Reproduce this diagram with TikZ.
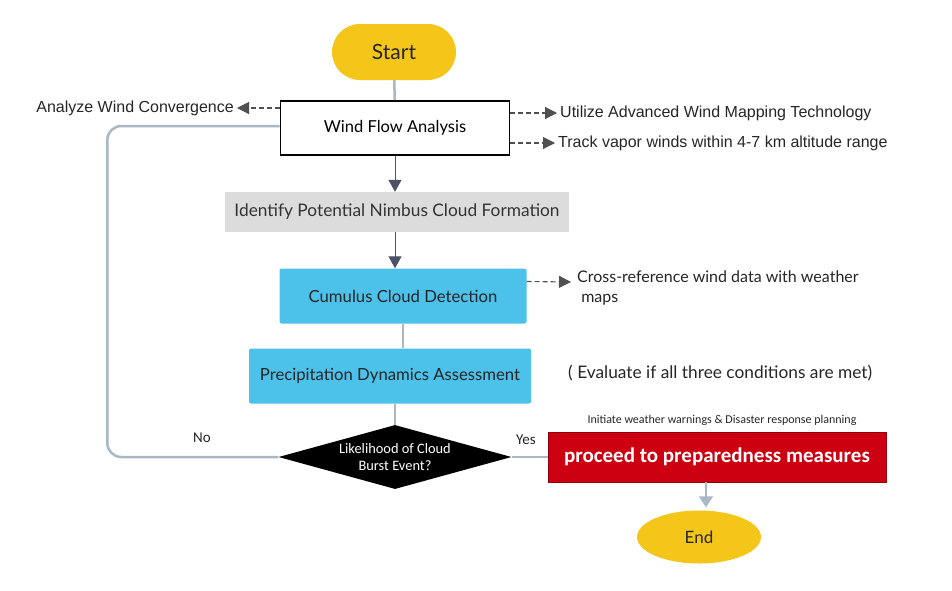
\documentclass[tikz,border=0pt]{standalone}
\usepackage{fontspec}
\setmainfont{Lato}
\newfontfamily\arialfont{Liberation Sans}
\newfontfamily\calfont{Carlito}
\usetikzlibrary{arrows.meta,shapes.geometric}

\definecolor{sunyellow}{HTML}{F5C61A}
\definecolor{flowgray}{HTML}{A9B8C6}
\definecolor{slatearrow}{HTML}{4B5167}
\definecolor{boxgray}{HTML}{DCDCDC}
\definecolor{skyblue}{HTML}{4CC1EA}
\definecolor{alertred}{HTML}{CC0011}
\definecolor{notegray}{HTML}{505050}

\begin{document}
\begin{tikzpicture}[x=1pt, y=-1pt,
  terminal/.style={fill=sunyellow, text=black!85, font=\fontsize{21}{25}\selectfont},
  plainbox/.style={draw=black, line width=1.6pt, fill=white, minimum width=229pt, minimum height=54pt, font=\fontsize{16.5}{20}\selectfont},
  stepbox/.style={fill=skyblue, rounded corners=2pt, text=black!85, font=\fontsize{16.7}{20}\selectfont},
  flowline/.style={draw=flowgray, line width=2.5pt},
  downarrow/.style={draw=slatearrow, line width=1pt, -{Triangle[length=12pt, width=13pt]}},
  sidearrow/.style={draw=notegray, dash pattern=on 5pt off 3pt, line width=1.1pt, -{Triangle[length=12pt, width=12pt]}},
  sidenote/.style={inner sep=3pt, text=black!85, font=\arialfont\fontsize{16}{19}\selectfont}]

\useasboundingbox[fill=white] (0,0) rectangle (952,590);

% main column
\node[terminal, rounded corners=28pt, minimum width=124pt, minimum height=56pt] (start) at (394,52) {Start};
\node[plainbox] (wind) at (395,128) {Wind Flow Analysis};
\node[fill=boxgray, minimum width=344pt, minimum height=40pt, text=black!80, font=\fontsize{17.3}{20}\selectfont] (nimbus) at (397,212) {Identify Potential Nimbus Cloud Formation};
\node[stepbox, minimum width=247pt, minimum height=55pt] (cumulus) at (403,296) {Cumulus Cloud Detection};
\node[stepbox, minimum width=282pt, minimum height=55pt] (precip) at (390,376) {Precipitation Dynamics Assessment};
\node[diamond, fill=black, aspect=3.6, inner sep=0pt, minimum width=233pt, minimum height=64pt, align=center, text=white, font=\calfont\fontsize{14.4}{17}\selectfont] (burst) at (395,457) {Likelihood of Cloud\\Burst Event?};
\node[fill=alertred, draw=alertred!70!black, minimum width=338pt, minimum height=50pt, text=white, font=\calfont\bfseries\fontsize{21}{25}\selectfont] (prepare) at (717,457) {proceed to preparedness measures};
\node[terminal, ellipse, minimum width=124pt, minimum height=53pt, font=\fontsize{17}{20}\selectfont] (finish) at (699,537) {End};

% notes
\node[sidenote, anchor=east] (converge) at (237,108) {Analyze Wind Convergence};
\node[sidenote, anchor=west] (mapping) at (557,113) {Utilize Advanced Wind Mapping Technology};
\node[sidenote, anchor=west] (vapor) at (555,143) {Track vapor winds within 4-7 km altitude range};
\node[anchor=north west, align=left, inner sep=0pt, text=black!85, font=\fontsize{16}{20}\selectfont] (crossref) at (577,271) {Cross-reference wind data with weather\\\ maps};
\coordinate (crosstip) at (571,282);
\node[anchor=west, inner sep=0pt, text=black!85, font=\fontsize{17.3}{20}\selectfont] (evaluate) at (568,373) {( Evaluate if all three conditions are met)};
\node[text=black!85, font=\calfont\fontsize{12}{14}\selectfont] (initiate) at (722,420) {Initiate weather warnings \& Disaster response planning};
\node[text=black!85, font=\calfont\fontsize{15}{18}\selectfont] (nolabel) at (202,438) {No};
\node[text=black!85, font=\calfont\fontsize{15}{18}\selectfont] (yeslabel) at (526,440) {Yes};

% connectors
\draw[flowline] (start) -- (wind);
\draw[downarrow] (wind) -- (nimbus.north -| wind);
\draw[downarrow] (nimbus.south -| wind) -- (cumulus.north -| wind);
\draw[flowline] (cumulus) -- (cumulus |- precip.north);
\draw[flowline] (precip.south -| burst) -- (burst);
\draw[flowline] (burst) -- (prepare);
\draw[flowline, rounded corners=14pt] (burst.west) -- ++(-171,0) |- ([yshift=2pt]wind.west);
\draw[draw=flowgray, line width=2pt, -{Triangle[length=11pt, width=14pt]}] ([xshift=-11pt]prepare.south) -- ([xshift=7pt, yshift=3pt]finish.north);

% dashed side arrows
\draw[sidearrow] ([yshift=20pt]wind.west) -- (converge);
\draw[sidearrow] ([yshift=15pt]wind.east) -- (mapping);
\draw[sidearrow] ([yshift=-15pt]wind.east) -- (vapor);
\draw[sidearrow] ([yshift=14.5pt]cumulus.east) -- (crosstip);

\end{tikzpicture}
\end{document}
